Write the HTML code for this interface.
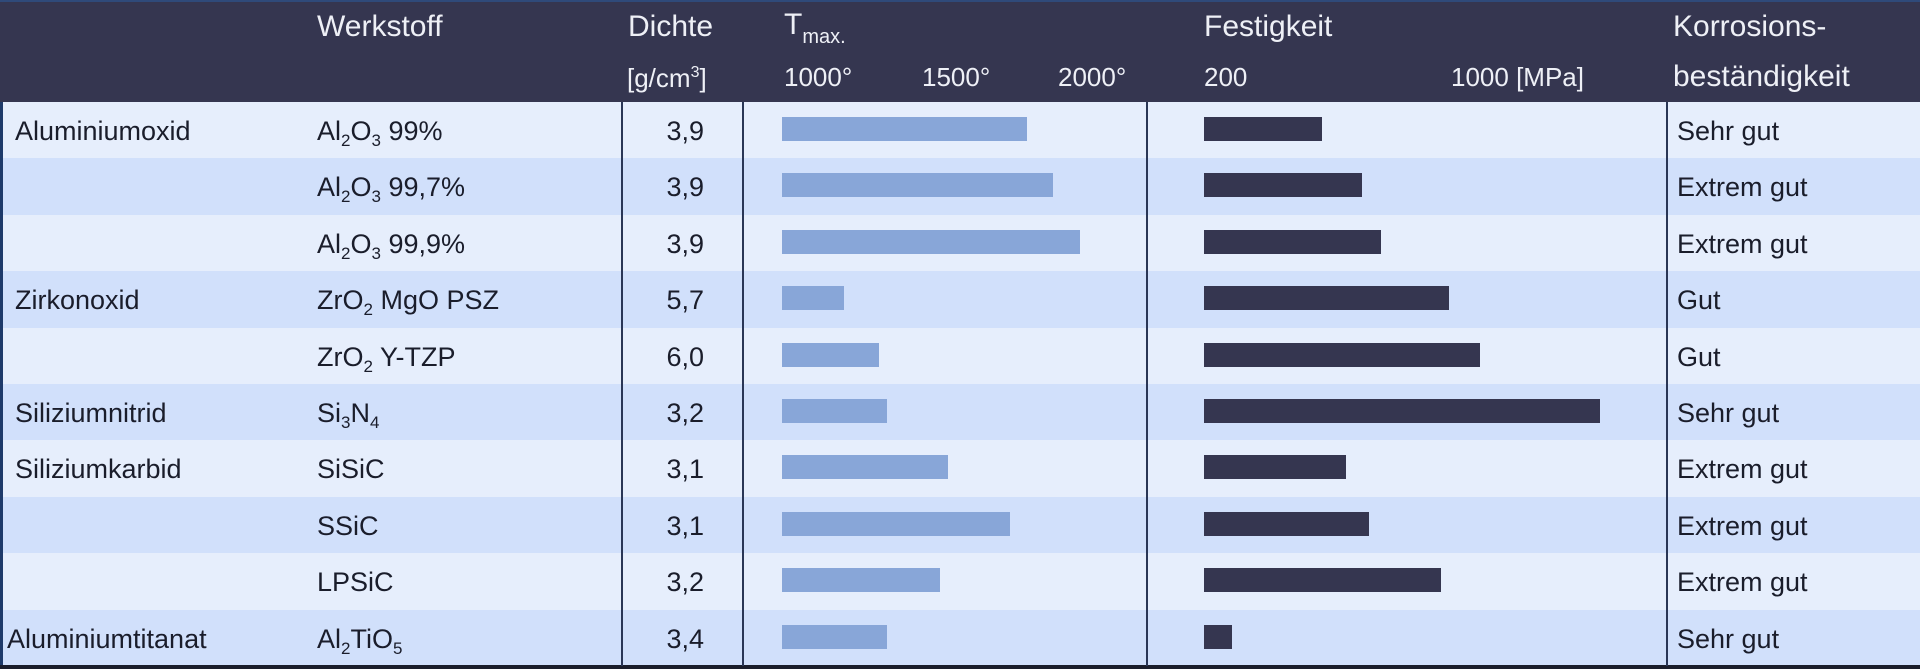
<!DOCTYPE html>
<html><head><meta charset="utf-8"><style>
body{margin:0;width:1920px;height:669px;overflow:hidden;background:#e6eefc;font-family:"Liberation Sans",sans-serif;}
.a{position:absolute;white-space:nowrap;}
.hd{color:#eef0f6;font-size:30px;}
.tx{color:#1a1d2b;font-size:27px;}
.tb{background:#88a6d8;height:24px;}
.fb{background:#353650;height:24px;}
.vl{position:absolute;top:102px;height:564px;width:2px;background:#2a3656;}
sub{font-size:17px;vertical-align:-6px;line-height:0}
sup{font-size:16px;vertical-align:10px;line-height:0}
</style></head><body>
<div class="a" style="left:0;top:0;width:1920px;height:102px;background:#353650;border-top:2px solid #2f4a7a;box-sizing:border-box"></div>
<div class="a hd" style="left:317px;top:10px">Werkstoff</div>
<div class="a hd" style="left:628px;top:10px">Dichte</div>
<div class="a hd" style="left:784px;top:8px">T<span style="font-size:20px;position:relative;top:9px">max.</span></div>
<div class="a hd" style="left:1204px;top:10px">Festigkeit</div>
<div class="a hd" style="left:1673px;top:10px">Korrosions-</div>
<div class="a hd" style="left:627px;top:63px;font-size:26px">[g/cm<sup>3</sup>]</div>
<div class="a hd" style="left:784px;top:62px;font-size:26px">1000°</div>
<div class="a hd" style="left:922px;top:62px;font-size:26px">1500°</div>
<div class="a hd" style="left:1058px;top:62px;font-size:26px">2000°</div>
<div class="a hd" style="left:1204px;top:62px;font-size:26px">200</div>
<div class="a hd" style="left:1451px;top:62px;font-size:26px">1000 [MPa]</div>
<div class="a hd" style="left:1673px;top:60px">beständigkeit</div>
<div id="rows"></div>
<div class="a" style="left:0;top:102px;width:3px;height:567px;background:#1e3a6a"></div>
<div class="a" style="left:0;top:665px;width:1920px;height:4px;background:#1a1d2b"></div>
<div class="vl" style="left:621px"></div>
<div class="vl" style="left:742px"></div>
<div class="vl" style="left:1146px"></div>
<div class="vl" style="left:1666px"></div>
<script>
var d=[["Aluminiumoxid","Al<sub>2</sub>O<sub>3</sub> 99%","3,9",1027,1322,"Sehr gut"],
["","Al<sub>2</sub>O<sub>3</sub> 99,7%","3,9",1053,1362,"Extrem gut"],
["","Al<sub>2</sub>O<sub>3</sub> 99,9%","3,9",1080,1381,"Extrem gut"],
["Zirkonoxid","ZrO<sub>2</sub> MgO PSZ","5,7",844,1449,"Gut"],
["","ZrO<sub>2</sub> Y-TZP","6,0",879,1480,"Gut"],
["Siliziumnitrid","Si<sub>3</sub>N<sub>4</sub>","3,2",887,1600,"Sehr gut"],
["Siliziumkarbid","SiSiC","3,1",948,1346,"Extrem gut"],
["","SSiC","3,1",1010,1369,"Extrem gut"],
["","LPSiC","3,2",940,1441,"Extrem gut"],
["Aluminiumtitanat","Al<sub>2</sub>TiO<sub>5</sub>","3,4",887,1232,"Sehr gut"]];
var h="";
d.forEach(function(r,i){var t=102+i*56.4;var c=i%2?"#d1e0fb":"#e6eefc";
h+='<div class="a" style="left:0;top:'+t+'px;width:1920px;height:57px;background:'+c+'"></div>';
var ty=t+14;
h+='<div class="a tx" style="left:'+(i==9?7:15)+'px;top:'+ty+'px">'+r[0]+'</div>';
h+='<div class="a tx" style="left:317px;top:'+ty+'px">'+r[1]+'</div>';
h+='<div class="a tx" style="left:640px;width:64px;text-align:right;top:'+ty+'px">'+r[2]+'</div>';
h+='<div class="a tb" style="left:782px;width:'+(r[3]-782)+'px;top:'+(t+15)+'px"></div>';
h+='<div class="a fb" style="left:1204px;width:'+(r[4]-1204)+'px;top:'+(t+15)+'px"></div>';
h+='<div class="a tx" style="left:1677px;top:'+ty+'px">'+r[5]+'</div>';});
document.getElementById("rows").innerHTML=h;
</script>
</body></html>
